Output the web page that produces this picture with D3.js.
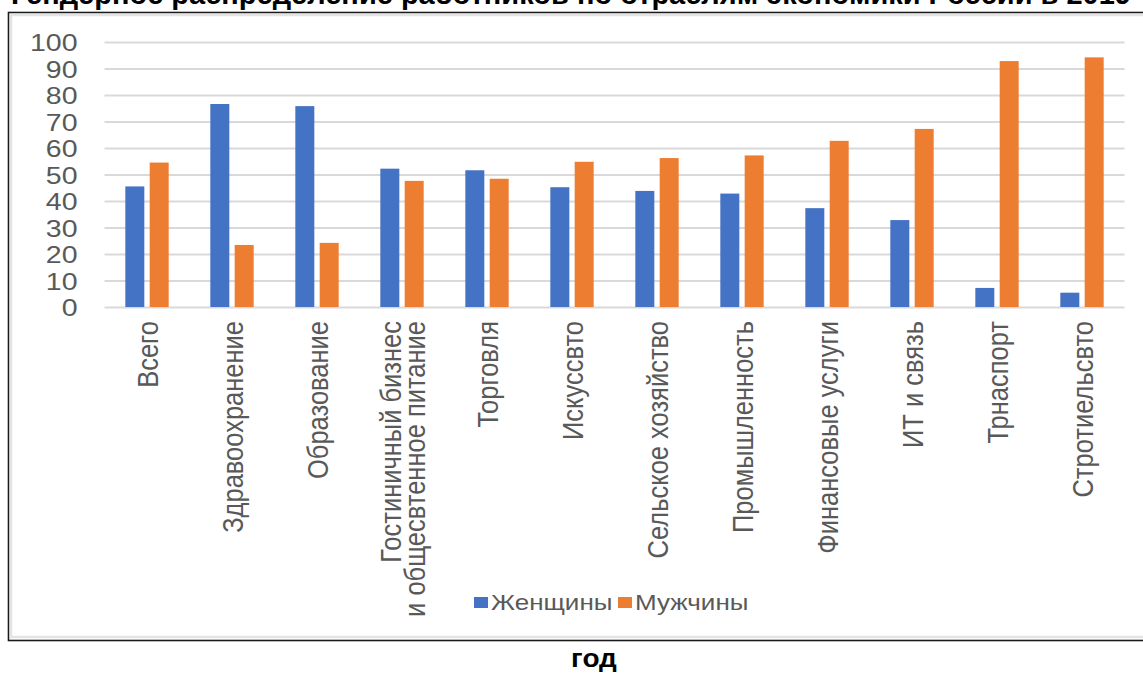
<!DOCTYPE html>
<html>
<head>
<meta charset="utf-8">
<script src="https://cdn.jsdelivr.net/npm/d3@7"></script>
<style>
  html, body { margin: 0; padding: 0; background: #fff; }
  svg { display: block; }
</style>
</head>
<body>
<svg id="chart" width="1143" height="673"></svg>
<script>
// Доля женщин и мужчин среди занятых по отраслям, %
const categories = [
  "Всего",
  "Здравоохранение",
  "Образование",
  "Гостиничный бизнес\nи общесвтенное питание",
  "Торговля",
  "Искуссвто",
  "Сельское хозяйство",
  "Промышленность",
  "Финансовые услуги",
  "ИТ и связь",
  "Трнаспорт",
  "Стротиельсвто"
];
const women = [45.5, 76.6, 75.8, 52.2, 51.6, 45.2, 43.8, 42.8, 37.3, 32.8, 7.2, 5.4];
const men   = [54.5, 23.4, 24.2, 47.6, 48.4, 54.8, 56.2, 57.2, 62.7, 67.2, 92.8, 94.2];
const seriesNames = ["Женщины", "Мужчины"];
const yTicks = [0, 10, 20, 30, 40, 50, 60, 70, 80, 90, 100];
const titleText = "Гендерное распределение работников по отраслям экономики России в 2019";
const footerText = "год";

const colors = { "Женщины": "#4472c4", "Мужчины": "#ed7d31" };
const FONT = "'Liberation Sans', Arial, sans-serif";
const squash = 0.87;

const svg = d3.select("#chart");

// Заголовок (верхняя строка уходит за край)
svg.append("text")
  .attr("x", 571).attr("y", 4)
  .attr("text-anchor", "middle")
  .attr("font-family", FONT).attr("font-weight", "bold")
  .attr("font-size", 29).attr("fill", "#000")
  .text(titleText);

// Рамка области диаграммы
svg.append("rect")
  .attr("x", 8.5).attr("y", 12.5).attr("width", 1150).attr("height", 628)
  .attr("fill", "#fff").attr("stroke", "#1a1a1a").attr("stroke-width", 1.6);
svg.append("rect")
  .attr("x", 11).attr("y", 15).attr("width", 1150).attr("height", 622)
  .attr("fill", "none").attr("stroke", "#e4e4e4").attr("stroke-width", 2.5);

const plot = { left: 104.5, right: 1124.5, top: 42, bottom: 307 };

const x0 = d3.scaleBand()
  .domain(categories)
  .range([plot.left, plot.right])
  .paddingInner(0.49)
  .paddingOuter(0.245);

const x1 = d3.scaleBand()
  .domain(seriesNames)
  .range([0, x0.bandwidth()])
  .paddingInner(0.22);

const y = d3.scaleLinear().domain([0, 100]).range([plot.bottom, plot.top]);

// Сетка
const grid = svg.append("g")
  .attr("transform", `translate(${plot.left},0)`)
  .call(d3.axisLeft(y).tickValues(yTicks).tickSize(-(plot.right - plot.left)).tickFormat(""));
grid.select(".domain").remove();
grid.selectAll(".tick line").attr("stroke", "#d9d9d9").attr("stroke-width", 2);

// Ось Y
const yAxis = svg.append("g")
  .attr("transform", `translate(${plot.left},0)`)
  .call(d3.axisLeft(y).tickValues(yTicks).tickSize(0).tickPadding(27));
yAxis.select(".domain").remove();
yAxis.selectAll(".tick text")
  .attr("font-family", FONT).attr("font-size", 28.5).attr("fill", "#595959")
  .attr("transform", `scale(1,${squash})`)
  .attr("dy", "0.36em");

// Столбцы
const rows = categories.map((c, i) => ({ cat: c, values: [
  { key: "Женщины", value: women[i] },
  { key: "Мужчины", value: men[i] }
]}));

svg.append("g").selectAll("g")
  .data(rows).join("g")
  .attr("transform", d => `translate(${x0(d.cat)},0)`)
  .selectAll("rect")
  .data(d => d.values).join("rect")
  .attr("x", d => x1(d.key))
  .attr("width", x1.bandwidth())
  .attr("y", d => y(d.value))
  .attr("height", d => y(0) - y(d.value))
  .attr("fill", d => colors[d.key]);

// Подписи категорий (повёрнутые)
const lineH = 24;
const labels = svg.append("g").selectAll("text")
  .data(categories).join("text")
  .attr("transform", d => `translate(${x0(d) + x0.bandwidth() / 2},321) scale(1,0.85) rotate(-90)`)
  .attr("text-anchor", "end")
  .attr("font-family", FONT).attr("font-size", 30).attr("fill", "#595959");
labels.each(function(d) {
  const lines = d.split("\n");
  const t = d3.select(this);
  lines.forEach((ln, i) => {
    t.append("tspan")
      .attr("x", 0)
      .attr("y", (i - (lines.length - 1) / 2) * lineH)
      .attr("dy", "0.35em")
      .text(ln);
  });
});

// Легенда
const legend = svg.append("g").attr("transform", "translate(474,602)");
const legItems = [
  { key: "Женщины", x: 0 },
  { key: "Мужчины", x: 144 }
];
legItems.forEach(it => {
  legend.append("rect")
    .attr("x", it.x).attr("y", -5).attr("width", 14).attr("height", 11)
    .attr("fill", colors[it.key]);
  legend.append("text")
    .attr("transform", `translate(${it.x + 17},0) scale(1,${squash})`)
    .attr("dy", "0.36em")
    .attr("font-family", FONT).attr("font-size", 26).attr("fill", "#595959")
    .text(it.key);
});

// Нижняя строка заголовка
svg.append("text")
  .attr("transform", `translate(594,667) scale(1,0.9)`)
  .attr("text-anchor", "middle")
  .attr("font-family", FONT).attr("font-weight", "bold")
  .attr("font-size", 28).attr("fill", "#000")
  .text(footerText);
</script>
</body>
</html>
